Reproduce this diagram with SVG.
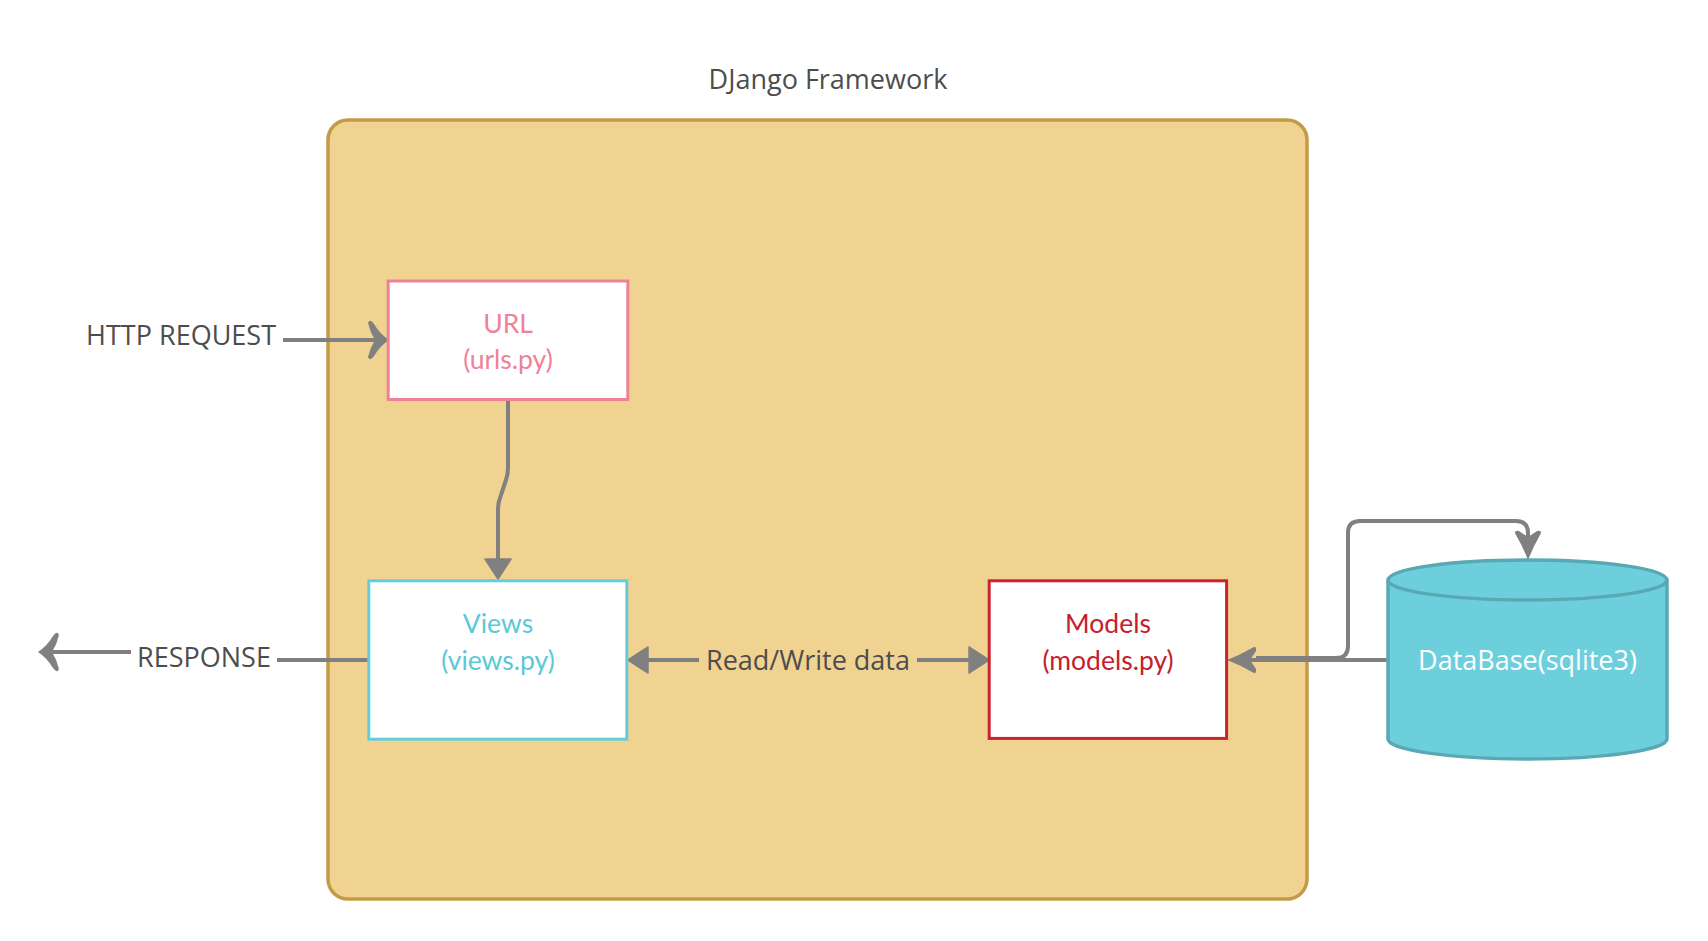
<svg xmlns="http://www.w3.org/2000/svg" width="1708" height="941" viewBox="0 0 1708 941">
<style>
.lbl{font-family:"Open Sans","Noto Sans","Liberation Sans",sans-serif;font-size:27px;fill:#4D4D4D}
.node{font-family:Lato,"Open Sans","Liberation Sans",sans-serif;font-size:26.5px;text-anchor:middle}
.conn{fill:none;stroke:#808080;stroke-width:4}
</style>
<defs>
<marker id="arrA" markerUnits="userSpaceOnUse" markerWidth="40" markerHeight="40" refX="0" refY="0" orient="auto" overflow="visible">
<path d="M13,0 Q4,-6 -2,-16 Q-6,-22 -8,-17 Q-6,-8 -1,0 Q-6,8 -8,17 Q-6,22 -2,16 Q4,6 13,0 Z" fill="#808080"/>
</marker>
<marker id="arrB" markerUnits="userSpaceOnUse" markerWidth="40" markerHeight="40" refX="0" refY="0" orient="auto" overflow="visible">
<path d="M22,0 Q9,-5 -3,-12 Q-8,-15 -7,-9 L-1,0 L-7,9 Q-8,15 -3,12 Q9,5 22,0 Z" fill="#808080"/>
</marker>
<marker id="tri" markerUnits="userSpaceOnUse" markerWidth="40" markerHeight="40" refX="0" refY="0" orient="auto-start-reverse" overflow="visible">
<path d="M20,0 L0,-13 L0,13 Z" fill="#808080" stroke="#808080" stroke-width="1.5" stroke-linejoin="round"/>
</marker>
</defs>
<rect width="1708" height="941" fill="#FFFFFF"/>

<g id="django-framework">
<rect x="328" y="120" width="979" height="779" rx="20" ry="20" fill="#F0D291" stroke="#C39B45" stroke-width="3.5"/>
<text class="lbl" x="828" y="89" text-anchor="middle">DJango Framework</text>
</g>

<g id="connectors">
<path class="conn" d="M283,340 H376" marker-end="url(#arrA)"/>
<path class="conn" d="M508,401 V468 Q508,474 506,480 L501,495 Q498,502 498,509 V559" marker-end="url(#tri)"/>
<path class="conn" d="M369,660 H277 M131,652 H51" marker-end="url(#arrA)"/>
<path class="conn" d="M648,660 H699 M917,660 H969" marker-start="url(#tri)" marker-end="url(#tri)"/>
<path class="conn" d="M1388,660 H1249" marker-end="url(#arrB)"/>
<path class="conn" d="M1256,658 H1336 Q1348,658 1348,646 V533 Q1348,521 1360,521 H1516 Q1528,521 1528,533 V538" marker-end="url(#arrB)"/>
</g>

<g id="http-request">
<text class="lbl" x="276" y="345" text-anchor="end">HTTP REQUEST</text>
</g>
<g id="response">
<text class="lbl" x="204" y="667" text-anchor="middle">RESPONSE</text>
</g>
<g id="read-write">
<text class="lbl" x="808" y="670" text-anchor="middle">Read/Write data</text>
</g>

<g id="url">
<rect x="388.2" y="281" width="239.6" height="118.5" fill="#FFFFFF" stroke="#EF8299" stroke-width="3"/>
<text class="node" x="508" y="333" fill="#EF8299">URL</text>
<text class="node" x="508" y="369" fill="#EF8299">(urls.py)</text>
</g>

<g id="views">
<rect x="368.8" y="580.8" width="258" height="158.4" fill="#FFFFFF" stroke="#66CCD9" stroke-width="3"/>
<text class="node" x="498" y="633" fill="#5CC8D7">Views</text>
<text class="node" x="498" y="670" fill="#5CC8D7">(views.py)</text>
</g>

<g id="models">
<rect x="989.2" y="580.8" width="237.4" height="157.6" fill="#FFFFFF" stroke="#C8232F" stroke-width="3"/>
<text class="node" x="1108" y="633" fill="#C4202E">Models</text>
<text class="node" x="1108" y="670" fill="#C4202E">(models.py)</text>
</g>

<g id="database">
<path d="M1388,580 V739 A139.5,20 0 0 0 1667,739 V580 A139.5,20 0 0 0 1388,580 Z" fill="#6ECFDC" stroke="#58A9B3" stroke-width="3.5"/>
<path d="M1388,580 A139.5,20 0 0 0 1667,580" fill="none" stroke="#58A9B3" stroke-width="3.5"/>
<text x="1527.5" y="670" text-anchor="middle" font-family="Open Sans, Noto Sans, Liberation Sans, sans-serif" font-size="27" fill="#FFFFFF">DataBase(sqlite3)</text>
</g>
</svg>
